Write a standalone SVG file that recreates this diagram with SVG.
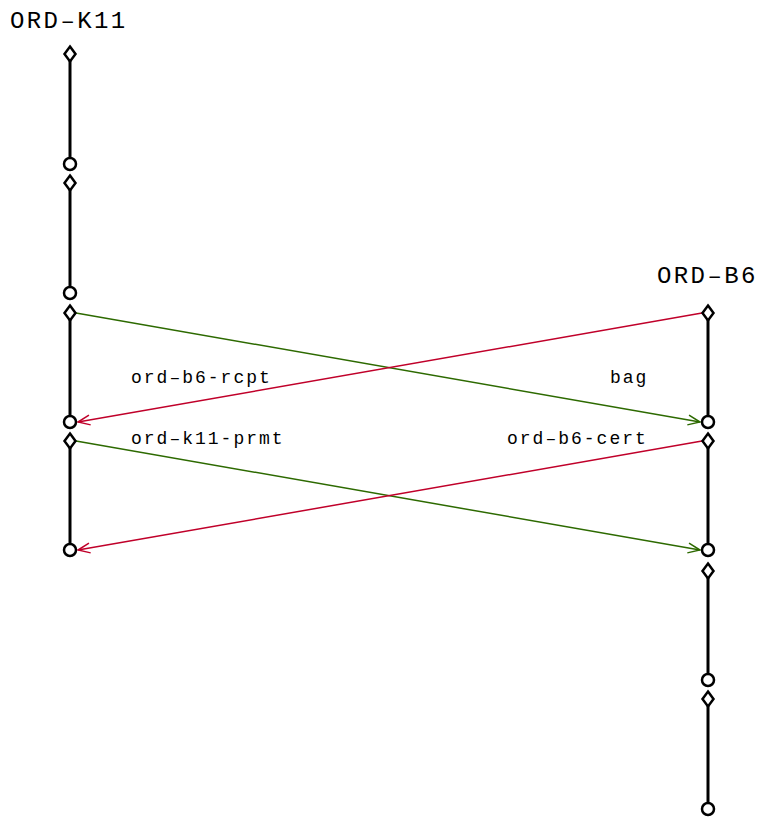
<svg xmlns="http://www.w3.org/2000/svg" width="759" height="822" viewBox="0 0 759 822">
<defs>
<style>
.life{stroke:#000;stroke-width:3;fill:none}
.dia{fill:#fff;stroke:#000;stroke-width:2.5}
.circ{fill:#fff;stroke:#000;stroke-width:2.5}
.title{font-family:"Liberation Mono",monospace;font-size:24px;letter-spacing:2.4px;fill:#000}
.lbl{font-family:"Liberation Mono",monospace;font-size:18px;letter-spacing:2px;fill:#000}
.g{stroke:#2d6a00;stroke-width:1.5;fill:none}
.r{stroke:#c0002a;stroke-width:1.5;fill:none}
</style>
<marker id="ag" markerWidth="14" markerHeight="12" refX="13" refY="6" orient="auto" markerUnits="userSpaceOnUse"><path d="M1,1 L13,6 L1,11" fill="none" stroke="#2d6a00" stroke-width="1.5"/></marker>
<marker id="ar" markerWidth="14" markerHeight="12" refX="13" refY="6" orient="auto" markerUnits="userSpaceOnUse"><path d="M1,1 L13,6 L1,11" fill="none" stroke="#c0002a" stroke-width="1.5"/></marker>
<path id="d" d="M0,-7.5 L5.5,0 L0,7.5 L-5.5,0 Z"/>
</defs>
<g id="connectors">
<line class="g" x1="76" y1="313" x2="700" y2="422" marker-end="url(#ag)"/>
<line class="r" x1="702" y1="313" x2="78" y2="422" marker-end="url(#ar)"/>
<line class="g" x1="76" y1="441" x2="700" y2="550" marker-end="url(#ag)"/>
<line class="r" x1="702" y1="441" x2="78" y2="550" marker-end="url(#ar)"/>
<text class="lbl" x="131" y="383">ord–b6-rcpt</text>
<text class="lbl" x="610" y="383">bag</text>
<text class="lbl" x="131" y="444">ord–k11-prmt</text>
<text class="lbl" x="507" y="444">ord–b6-cert</text>
</g>
<g id="ORD-K11">
<text class="title" x="10" y="28">ORD–K11</text>
<line class="life" x1="70" y1="61" x2="70" y2="158"/>
<line class="life" x1="70" y1="190" x2="70" y2="287"/>
<line class="life" x1="70" y1="320" x2="70" y2="416"/>
<line class="life" x1="70" y1="448" x2="70" y2="544"/>
<use href="#d" class="dia" x="70" y="54"/>
<circle class="circ" cx="70" cy="164" r="6"/>
<use href="#d" class="dia" x="70" y="183"/>
<circle class="circ" cx="70" cy="293" r="6"/>
<use href="#d" class="dia" x="70" y="313"/>
<circle class="circ" cx="70" cy="422" r="6"/>
<use href="#d" class="dia" x="70" y="441"/>
<circle class="circ" cx="70" cy="550" r="6"/>
</g>
<g id="ORD-B6">
<text class="title" x="657" y="283">ORD–B6</text>
<line class="life" x1="708" y1="320" x2="708" y2="416"/>
<line class="life" x1="708" y1="448" x2="708" y2="544"/>
<line class="life" x1="708" y1="578" x2="708" y2="674"/>
<line class="life" x1="708" y1="706" x2="708" y2="803"/>
<use href="#d" class="dia" x="708" y="313"/>
<circle class="circ" cx="708" cy="422" r="6"/>
<use href="#d" class="dia" x="708" y="441"/>
<circle class="circ" cx="708" cy="550" r="6"/>
<use href="#d" class="dia" x="708" y="571"/>
<circle class="circ" cx="708" cy="680" r="6"/>
<use href="#d" class="dia" x="708" y="699"/>
<circle class="circ" cx="708" cy="809" r="6"/>
</g>
</svg>
